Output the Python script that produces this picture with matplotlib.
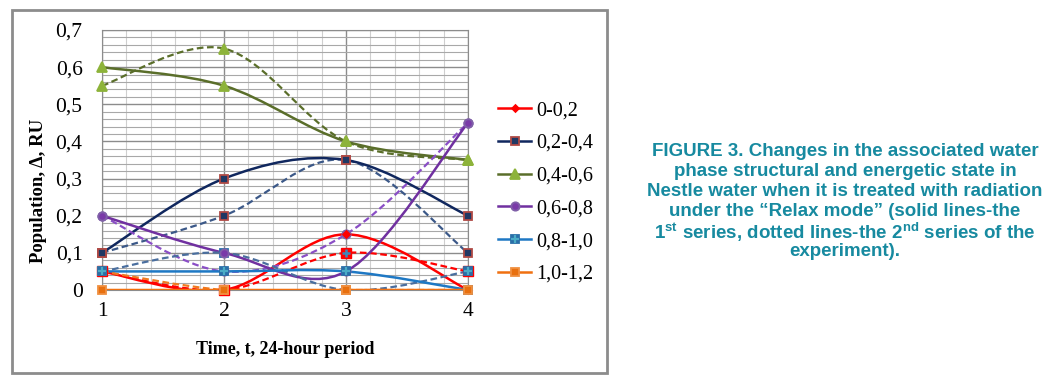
import matplotlib
matplotlib.use("Agg")
import matplotlib.pyplot as plt
from matplotlib.path import Path
from matplotlib.patches import PathPatch, Rectangle
from matplotlib.lines import Line2D
from matplotlib.ticker import MultipleLocator, FuncFormatter

plt.rcParams['font.family'] = ['Liberation Serif', 'DejaVu Serif']
plt.rcParams['mathtext.fontset'] = 'custom'
plt.rcParams['mathtext.rm'] = 'Liberation Sans:bold'
plt.rcParams['mathtext.bf'] = 'Liberation Sans:bold'

# data
days = [1, 2, 3, 4]
labels = ['0-0,2', '0,2-0,4', '0,4-0,6', '0,6-0,8', '0,8-1,0', '1,0-1,2']
series1 = {  # solid lines, 1st series
    '0-0,2':   [0.05, 0.0, 0.15, 0.0],
    '0,2-0,4': [0.10, 0.30, 0.35, 0.20],
    '0,4-0,6': [0.60, 0.55, 0.40, 0.35],
    '0,6-0,8': [0.20, 0.10, 0.05, 0.45],
    '0,8-1,0': [0.05, 0.05, 0.05, 0.0],
    '1,0-1,2': [0.0, 0.0, 0.0, 0.0],
}
series2 = {  # dotted lines, 2nd series
    '0-0,2':   [0.05, 0.0, 0.10, 0.05],
    '0,2-0,4': [0.10, 0.20, 0.35, 0.10],
    '0,4-0,6': [0.55, 0.65, 0.40, 0.35],
    '0,6-0,8': [0.20, 0.05, 0.15, 0.45],
    '0,8-1,0': [0.05, 0.10, 0.0, 0.05],
    '1,0-1,2': [0.05, 0.0, 0.0, 0.0],
}

# style per range: line color (solid), line color (dashed), marker, face, edge, size
styles = {
    '0-0,2':   ('#ff0000', '#ff0000', 'D', '#ff0000', '#ff0000', 3.5),
    '0,2-0,4': ('#10275e', '#3b5888', 's', '#1f3864', '#b04a45', 6),
    '0,4-0,6': ('#5a6e2a', '#5a6e2a', '^', '#8db33a', '#8db33a', 6.5),
    '0,6-0,8': ('#7030a0', '#8a4ec6', 'o', '#7a3aa8', '#8060a8', 6),
    '0,8-1,0': ('#1e78c4', '#4a6e9e', 's', '#2a6fa8', '#2a6fa8', 6),
    '1,0-1,2': ('#f07010', '#f07a20', 's', '#e8700f', '#f09040', 5.5),
}


def smooth_path(xs, ys):
    # Excel-like smoothed line drawn as cubic bezier segments
    pts = list(zip(xs, ys))
    n = len(pts)
    verts = [pts[0]]
    codes = [Path.MOVETO]
    for i in range(n - 1):
        p0 = pts[i - 1] if i > 0 else pts[i]
        p1 = pts[i]
        p2 = pts[i + 1]
        p3 = pts[i + 2] if i + 2 < n else pts[i + 1]
        c1 = (p1[0] + (p2[0] - p0[0]) / 6, p1[1] + (p2[1] - p0[1]) / 6)
        c2 = (p2[0] - (p3[0] - p1[0]) / 6, p2[1] - (p3[1] - p1[1]) / 6)
        verts += [c1, c2, p2]
        codes += [Path.CURVE4] * 3
    return Path(verts, codes)


fig = plt.figure(figsize=(10.51, 3.85), dpi=100)
fig.patches.append(Rectangle((12 / 1051, 1 - 373 / 385), 595 / 1051, 363 / 385,
                             transform=fig.transFigure, fill=False,
                             edgecolor='#8c8c8c', lw=2))
ax = fig.add_axes([102 / 1051, 1 - 290 / 385, 366 / 1051, 260 / 385])
ax.set_xlim(1, 4)
ax.set_ylim(0, 0.7)

ax.xaxis.set_major_locator(MultipleLocator(1))
ax.xaxis.set_minor_locator(MultipleLocator(0.2))
ax.yaxis.set_major_locator(MultipleLocator(0.1))
ax.yaxis.set_minor_locator(MultipleLocator(0.02))
ax.grid(which='major', color='#8c8c8c', lw=1)
ax.grid(which='minor', axis='y', color='#a8a8a8', lw=0.8)
ax.grid(which='minor', axis='x', color='#cfcfcf', lw=0.8)
ax.set_axisbelow(True)
for s in ax.spines.values():
    s.set_color('#8c8c8c')
ax.tick_params(which='both', length=0)
ax.tick_params(axis='y', pad=14, labelsize=15.5)
ax.tick_params(axis='x', pad=9, labelsize=15.5)
ax.yaxis.set_major_formatter(FuncFormatter(
    lambda v, p: '0' if abs(v) < 1e-9 else f'{v:.1f}'.replace('.', ',')))

handles = []
for name in labels:
    lc1, lc2, mk, fc, ec, ms = styles[name]
    ax.add_patch(PathPatch(smooth_path(days, series2[name]), fill=False,
                           edgecolor=lc2, lw=1.6, linestyle=(0, (3, 1.6)), zorder=3))
    ax.add_patch(PathPatch(smooth_path(days, series1[name]), fill=False,
                           edgecolor=lc1, lw=1.8, zorder=3))

for name in labels:
    lc1, lc2, mk, fc, ec, ms = styles[name]
    if name == '0-0,2':
        ax.plot(days, series2[name], ls='none', marker='s', ms=7, mfc='#ff0000',
                mec='#ff0000', zorder=4, clip_on=False)
        ax.plot(days[2:], series2[name][2:], ls='none', marker='+', ms=6, mew=1.8,
                color='#3d86b8', zorder=4, clip_on=False)
    else:
        ax.plot(days, series2[name], ls='none', marker=mk, ms=ms, mfc=fc,
                mec=ec, mew=1.3, zorder=4, clip_on=False)
    ax.plot(days, series1[name], ls='none', marker=mk, ms=ms, mfc=fc,
            mec=ec, mew=1.3, zorder=5, clip_on=False)
    if name == '0,8-1,0':
        for ser, z in ((series2, 4), (series1, 5)):
            ax.plot(days, ser[name], ls='none', marker='+', ms=5.5, mew=1.6,
                    color='#4bacc6', zorder=z, clip_on=False)
    h = Line2D([], [], color=lc1, lw=1.8, marker=mk, ms=ms, mfc=fc, mec=ec, mew=1.3)
    if name == '0,8-1,0':
        h = (h, Line2D([], [], ls='none', marker='+', ms=5.5, mew=1.6, color='#4bacc6'))
    handles.append(h)

ax.set_xlabel('Time, t, 24-hour period', fontsize=13, fontweight='bold', labelpad=14)
ax.set_ylabel('Population, \u0394, RU', fontsize=13.5, fontweight='bold')
ax.yaxis.set_label_coords(-0.15, 0.38)

fig.legend(handles, labels, loc='center left', bbox_to_anchor=(480 / 1051, 0.50),
           frameon=False, fontsize=14.5, labelspacing=0.68, handlelength=1.65,
           handletextpad=0.25)

caption = [
    'FIGURE 3. Changes in the associated water',
    'phase structural and energetic state in',
    'Nestle water when it is treated with radiation',
    'under the \u201cRelax mode\u201d (solid lines-the',
    '1$^{\\mathbf{st}}$ series, dotted lines-the 2$^{\\mathbf{nd}}$ series of the',
    'experiment).',
]
for i, line in enumerate(caption):
    fig.text(845 / 1051, 1 - (152 + 20 * i) / 385, line, ha='center', va='center',
             fontsize=13.5, fontweight='bold', color='#178aa0',
             family=['Liberation Sans', 'DejaVu Sans'])

fig.savefig('out.png', dpi=100)
